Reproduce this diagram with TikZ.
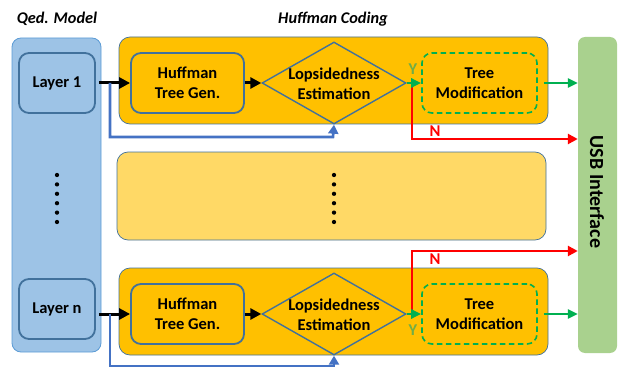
\documentclass[tikz,border=0pt]{standalone}
\usepackage{fontspec}
\setmainfont{Carlito}
\usetikzlibrary{arrows.meta,shapes.geometric}
\definecolor{colfill}{HTML}{9DC3E6}
\definecolor{colline}{HTML}{5B9BD5}
\definecolor{boxline}{HTML}{41719C}
\definecolor{orng}{HTML}{FFC000}
\definecolor{lorng}{HTML}{FFD966}
\definecolor{usbg}{HTML}{A9D18E}
\definecolor{arrblue}{HTML}{4472C4}
\definecolor{grn}{HTML}{00B050}
\definecolor{ylab}{HTML}{70AD47}
\tikzset{
  txt/.style={font=\fontsize{16.5}{19.5}\selectfont\bfseries, align=center, inner sep=0},
  layerbox/.style={txt, draw=boxline, line width=1.8pt, fill=colfill, rounded corners=10pt, minimum width=76pt, minimum height=60pt},
  rowbox/.style={draw=boxline, line width=0.7pt, rounded corners=11pt, minimum width=429pt, minimum height=87pt},
  genbox/.style={txt, draw=boxline, line width=1.8pt, fill=orng, rounded corners=10pt, minimum width=113pt, minimum height=60pt},
  dia/.style={diamond, draw=boxline, line width=1.4pt, minimum width=144pt, minimum height=82pt, inner sep=0},
  modbox/.style={txt, draw=grn, line width=1.6pt, dash pattern=on 5.5pt off 3.5pt, rounded corners=10pt, minimum width=115pt, minimum height=60pt},
  blk/.style={line width=3pt, -{Triangle[length=11pt,width=11pt]}},
  blu/.style={line width=2.6pt, arrblue, -{Triangle[length=9pt,width=10pt]}},
  grnarr/.style={line width=2.6pt, grn, -{Triangle[length=10pt,width=9pt]}},
  redarr/.style={line width=2.8pt, red, -{Triangle[length=10pt,width=10pt]}},
  lab/.style={font=\fontsize{16.5}{19}\selectfont\bfseries, inner sep=0},
  ttl/.style={font=\fontsize{16.3}{19}\selectfont\bfseries\itshape, inner sep=0},
  dot/.style={circle, fill=black, inner sep=0, minimum size=4.3pt}
}
\begin{document}
\begin{tikzpicture}[x=1pt,y=-1pt]
\useasboundingbox (0,0) rectangle (622,369);
% titles
\node[ttl] (t1) at (57,19) {Qed. Model};
\node[ttl] (t2) at (333,19) {Huffman Coding};
% left column
\node[draw=colline, line width=0.8pt, fill=colfill, rounded corners=9pt, minimum width=89pt, minimum height=314pt, inner sep=0] (col) at (56.5,195) {};
\node[layerbox] (L1) at (57,83) {Layer 1};
\node[layerbox] (Ln) at (57,309) {Layer n};
\foreach \k [count=\i] in {0,...,5} {\node[dot] (cd\i) at (57,{175+9.4*\k}) {};}
% row boxes
\node[rowbox, fill=orng] (R1) at (333.5,80.5) {};
\node[rowbox, fill=lorng, minimum height=88pt] (Rm) at (331.5,196) {};
\node[rowbox, fill=orng] (R2) at (333.5,311.5) {};
\foreach \k [count=\i] in {0,...,5} {\node[dot] (md\i) at (334,{175+9.4*\k}) {};}
% USB
\node[fill=usbg, rounded corners=7pt, minimum width=39pt, minimum height=316pt, inner sep=0] (usb) at (597.5,195) {};
\node[font=\fontsize{20}{24}\selectfont\bfseries, rotate=-90, inner sep=0] (usbt) at (597,192) {USB Interface};
% row 1
\node[genbox] (H1) at (187.5,83) {Huffman\\Tree Gen.};
\node[dia] (D1) at (334,83) {};
\node[txt] (D1t) at (334,84) {Lopsidedness\\Estimation};
\node[modbox] (T1) at (479.5,83) {Tree\\Modification};
% row 2
\node[genbox] (H2) at (187.5,314) {Huffman\\Tree Gen.};
\node[dia] (D2) at (334,314) {};
\node[txt] (D2t) at (334,315) {Lopsidedness\\Estimation};
\node[modbox] (T2) at (479.5,314) {Tree\\Modification};
% coordinates
\coordinate (b1) at (110,83);
\coordinate (b2) at (110,314);
\coordinate (r1) at (412,83);
\coordinate (r2) at (412,314);
% row 1 connectors
\draw[blk, shorten <=3pt] (L1.east) -- (H1.west);
\draw[blk] (H1.east) -- (D1.west);
\draw[blu] (b1) |- (333,137) -- (D1.south);
\draw[redarr] (r1) |- (usb.west |- 0,139);
\draw[grnarr] (D1.east) -- (T1.west);
\draw[grnarr, shorten <=6pt] (T1.east) -- (usb.west |- T1.east);
\node[lab, text=ylab] (y1) at (413,69) {Y};
\node[lab, text=red] (n1) at (435,131) {N};
% row 2 connectors
\draw[blk, shorten <=3pt] (Ln.east |- H2.west) -- (H2.west);
\draw[blk] (H2.east) -- (D2.west);
\draw[blu] (b2) |- (334,366) -- (D2.south);
\draw[redarr] (r2) |- (usb.west |- 0,251);
\draw[grnarr] (D2.east) -- (T2.west);
\draw[grnarr, shorten <=6pt] (T2.east) -- (usb.west |- T2.east);
\node[lab, text=ylab] (y2) at (413,330) {Y};
\node[lab, text=red] (n2) at (435,259) {N};
\end{tikzpicture}
\end{document}
